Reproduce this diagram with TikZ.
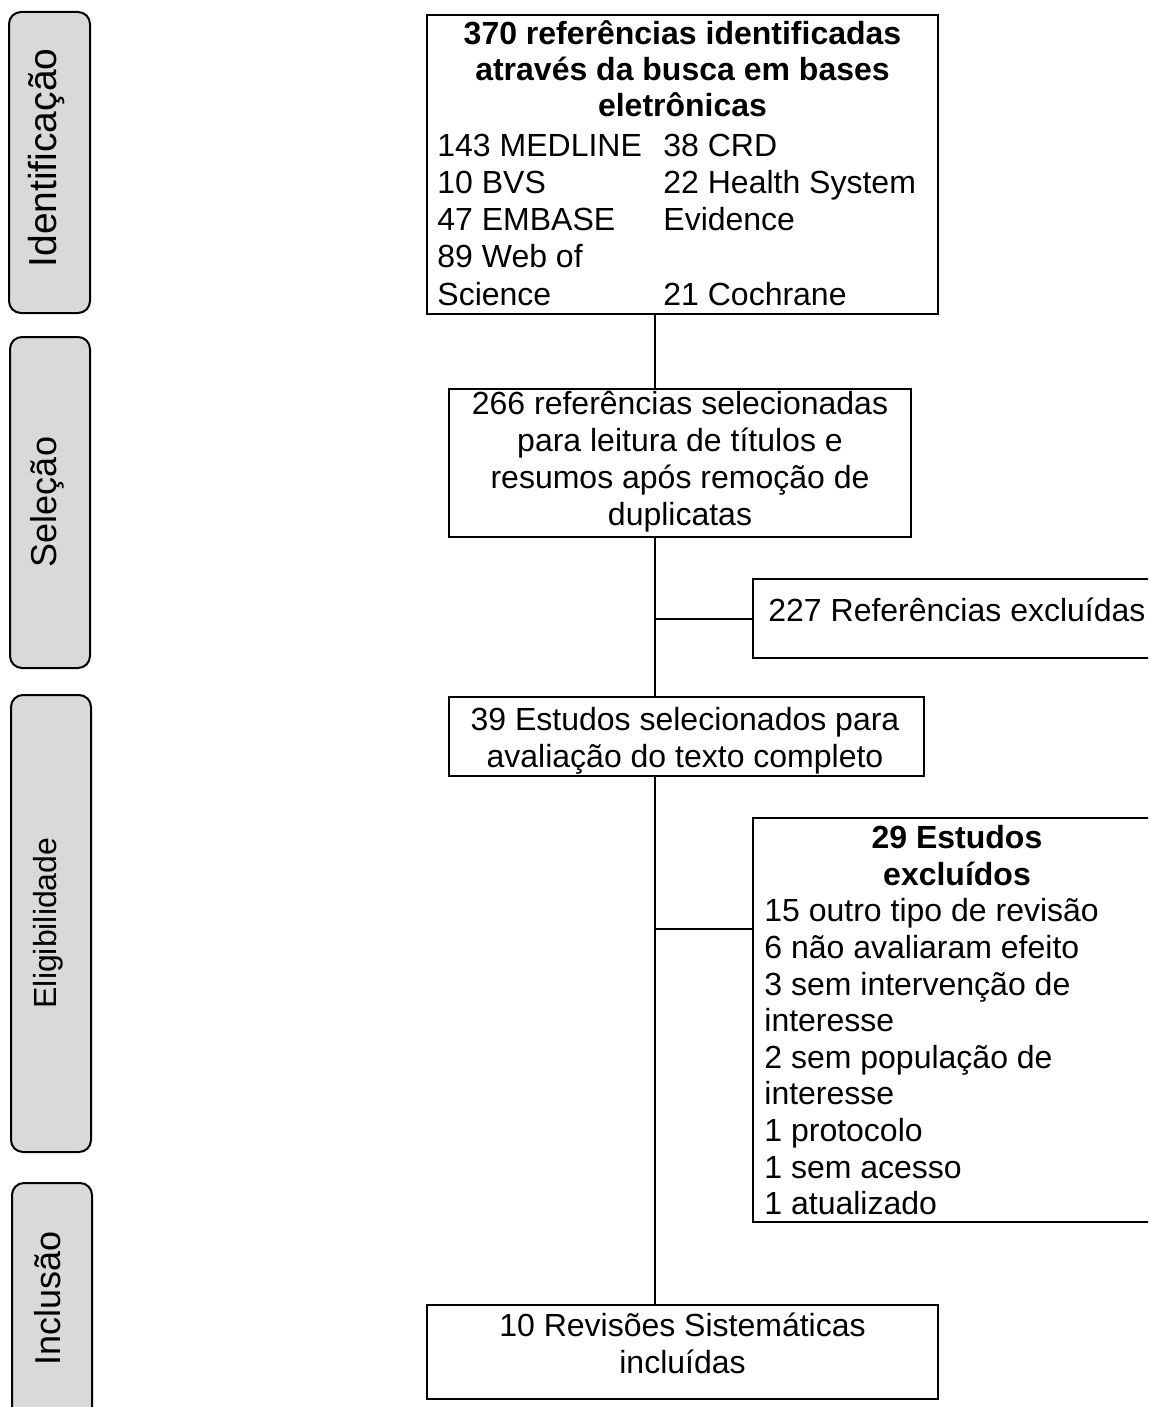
\documentclass[tikz,border=0pt]{standalone}
\usepackage{fontspec}
\setmainfont{Liberation Sans}
\usetikzlibrary{fit}
\definecolor{stagegray}{HTML}{D9D9D9}
\begin{document}
\begin{tikzpicture}[x=0.5pt,y=-0.5pt,
  flowbox/.style={draw=black, line width=1.4pt, fill=white, inner sep=0pt},
  stagebox/.style={draw=black, line width=1pt, fill=stagegray, rounded corners=6pt, inner sep=0pt},
  conn/.style={draw=black, line width=1pt},
  txt/.style={inner sep=0pt, font=\fontsize{16pt}{18.5pt}\selectfont},
  btxt/.style={inner sep=0pt, font=\fontsize{16pt}{18.5pt}\selectfont\bfseries},
  stagetxt/.style={rotate=90, inner sep=0pt, font=\fontsize{18pt}{20pt}\selectfont},
  stagetxtbig/.style={rotate=90, inner sep=0pt, font=\fontsize{19.5pt}{22pt}\selectfont},
  stagetxtsmall/.style={rotate=90, inner sep=0pt, font=\fontsize{16pt}{18pt}\selectfont}
]
\useasboundingbox (0,0) rectangle (1148,1407);
\clip (0,0) rectangle (1148,1407);
\fill[white] (0,0) rectangle (1148,1407);

% stage labels
\node[stagebox, fit={(9,12) (90,313)}] (sid) {};
\node[stagetxtbig] (sidt) at (47,158) {Identificação};
\node[stagebox, fit={(10,337) (90,668)}] (ssel) {};
\node[stagetxt] (sselt) at (47,502) {Seleção};
\node[stagebox, fit={(11,695) (91,1152)}] (sel) {};
\node[stagetxtsmall] (selt) at (48,923) {Eligibilidade};
\node[stagebox, fit={(12,1183) (92,1440)}] (sinc) {};
\node[stagetxt] (sinct) at (48,1298) {Inclusão};

% flow boxes
\node[flowbox, fit={(427,15) (938,314)}] (b1) {};
\node[flowbox, fit={(449,389) (911,537)}] (b2) {};
\node[flowbox, fit={(753,579) (1170,658)}] (ex1) {};
\node[flowbox, fit={(449,697) (924,776)}] (b4) {};
\node[flowbox, fit={(753,818) (1170,1222)}] (ex2) {};
\node[flowbox, fit={(427,1305) (938,1399)}] (b6) {};

% connectors
\coordinate (spine) at (655,0);
\coordinate (j1) at (655,619);
\coordinate (j2) at (655,929);
\draw[conn] (b1.south -| spine) -- (b2.north -| spine);
\draw[conn] (b2.south -| spine) -- (b4.north -| spine);
\draw[conn] (b4.south -| spine) -- (b6.north -| spine);
\draw[conn] (j1) -- (j1 -| ex1.west);
\draw[conn] (j2) -- (j2 -| ex2.west);

% box 1 text
\node[btxt, anchor=base] (b1t1) at (682.5,45) {370 referências identificadas};
\node[btxt, anchor=base] (b1t2) at (682.5,81) {através da busca em bases};
\node[btxt, anchor=base] (b1t3) at (682.5,117) {eletrônicas};
\foreach \y/\s [count=\i] in {157/143 MEDLINE, 194/10 BVS, 231/47 EMBASE, 268/89 Web of, 305/Science}
  \node[txt, anchor=base west] (b1a\i) at (437,\y) {\s};
\foreach \y/\s [count=\i] in {157/38 CRD, 194/22 Health System, 231/Evidence, 305/21 Cochrane}
  \node[txt, anchor=base west] (b1b\i) at (663,\y) {\s};

% box 2 text
\foreach \y/\s [count=\i] in {414/266 referências selecionadas, 451/para leitura de títulos e, 488/resumos após remoção de, 525/duplicatas}
  \node[txt, anchor=base] (b2t\i) at (680,\y) {\s};

% excluded 1
\node[txt, anchor=base west] (ex1t) at (768,621) {227 Referências excluídas};

% box 4 text
\node[txt, anchor=base] (b4t1) at (685,730) {39 Estudos selecionados para};
\node[txt, anchor=base] (b4t2) at (685,767) {avaliação do texto completo};

% excluded 2
\node[btxt, anchor=base] (ex2h1) at (957,848) {29 Estudos};
\node[btxt, anchor=base] (ex2h2) at (957,885) {excluídos};
\foreach \y/\s [count=\i] in {921/15 outro tipo de revisão, 958/6 não avaliaram efeito, 995/3 sem intervenção de, 1031/interesse, 1068/2 sem população de, 1104/interesse, 1141/1 protocolo, 1178/1 sem acesso, 1214/1 atualizado}
  \node[txt, anchor=base west] (ex2t\i) at (764,\y) {\s};

% box 6 text
\node[txt, anchor=base] (b6t1) at (682.5,1336) {10 Revisões Sistemáticas};
\node[txt, anchor=base] (b6t2) at (682.5,1373) {incluídas};
\end{tikzpicture}
\end{document}
